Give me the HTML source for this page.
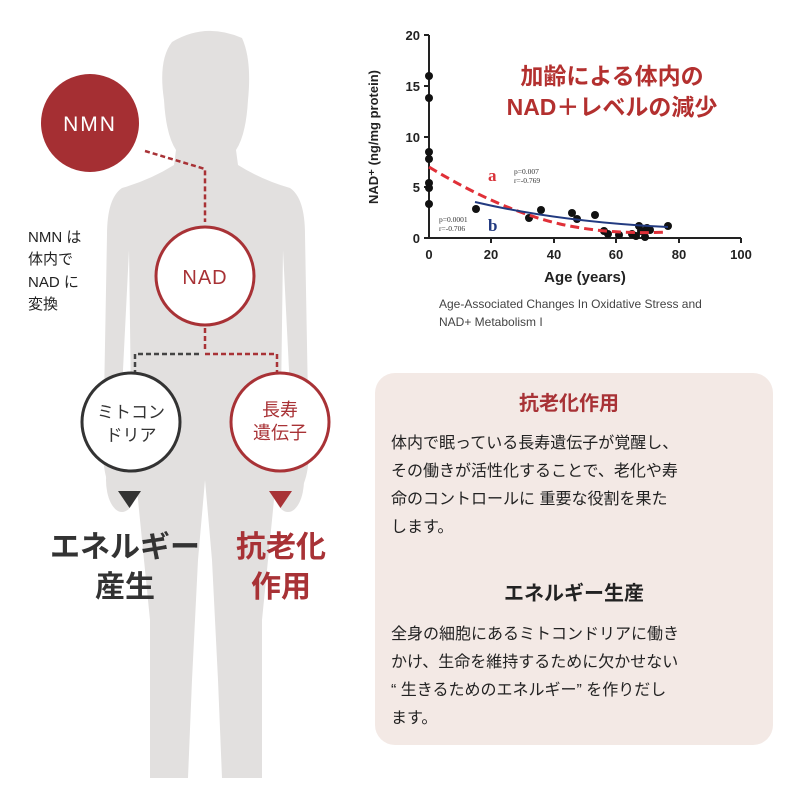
<!DOCTYPE html>
<html><head><meta charset="utf-8"><style>
body{margin:0;width:800px;height:801px;background:#fff;overflow:hidden;font-family:"Liberation Sans","Noto Sans CJK JP",sans-serif;}
</style></head><body>
<svg width="800" height="801" viewBox="0 0 800 801" xmlns="http://www.w3.org/2000/svg" font-family="Liberation Sans, Noto Sans CJK JP, sans-serif">
<!-- body silhouette -->
<g fill="#e2e0df">
<path d="M172,42 Q205,22 242,38 Q252,60 248,100 Q246,135 236,150 L238,165 Q262,180 290,188 Q305,198 305,235 L308,400 Q312,460 305,480 L300,495 Q290,440 290,390 L283,250 L281,400 Q280,440 272,520 L262,620 L262,700 L262,778 L222,778 L218,680 L212,560 L205,480 L198,560 L192,680 L188,778 L150,778 L150,700 L150,620 L140,520 Q132,440 131,400 L129,250 L122,390 Q122,440 112,495 L107,480 Q100,460 104,400 L107,235 Q107,198 122,188 Q150,180 174,165 L176,150 Q166,135 164,100 Q158,60 172,42 Z"/>
<ellipse cx="122" cy="480" rx="16" ry="32"/>
<ellipse cx="288" cy="480" rx="16" ry="32"/>
</g>
<!-- connectors -->
<g fill="none" stroke-width="2.5" stroke-dasharray="5,3">
<path d="M145,151 L205,169 L205,222" stroke="#a83236"/>
<path d="M205,328 L205,352" stroke="#a83236"/>
<path d="M135,375 L135,354 L201,354" stroke="#444"/>
<path d="M205,354 L277,354 L277,375" stroke="#a83236"/>
</g>
<!-- NMN -->
<circle cx="90" cy="123" r="49" fill="#a52f33"/>
<text x="90" y="131" text-anchor="middle" font-size="21" fill="#fff" letter-spacing="2">NMN</text>
<!-- NAD -->
<circle cx="205" cy="276" r="49" fill="#fff" stroke="#a83236" stroke-width="3"/>
<text x="205" y="284" text-anchor="middle" font-size="20" fill="#a83236" letter-spacing="1">NAD</text>
<text x="28" y="242" font-size="15" fill="#222">NMN は</text>
<text x="28" y="264" font-size="15" fill="#222">体内で</text>
<text x="28" y="287" font-size="15" fill="#222">NAD に</text>
<text x="28" y="309" font-size="15" fill="#222">変換</text>
<!-- circles -->
<circle cx="131" cy="422" r="49" fill="#fff" stroke="#333" stroke-width="3"/>
<text x="131" y="418" text-anchor="middle" font-size="17" fill="#333">ミトコン</text>
<text x="131" y="441" text-anchor="middle" font-size="17" fill="#333">ドリア</text>
<circle cx="280" cy="422" r="49" fill="#fff" stroke="#a83236" stroke-width="3"/>
<text x="280" y="416" text-anchor="middle" font-size="18" fill="#a83236">長寿</text>
<text x="280" y="439" text-anchor="middle" font-size="18" fill="#a83236">遺伝子</text>
<polygon points="118,491 141,491 129.5,508" fill="#333"/>
<polygon points="269,491 292,491 280.5,508" fill="#a83236"/>
<text x="125" y="557" text-anchor="middle" font-size="30" font-weight="bold" fill="#333">エネルギー</text>
<text x="125" y="597" text-anchor="middle" font-size="30" font-weight="bold" fill="#333">産生</text>
<text x="281" y="557" text-anchor="middle" font-size="30" font-weight="bold" fill="#a83236">抗老化</text>
<text x="281" y="597" text-anchor="middle" font-size="30" font-weight="bold" fill="#a83236">作用</text>
<!-- chart -->
<g stroke="#222" stroke-width="2" fill="none">
<path d="M429,35 L429,238 L741,238"/>
<path d="M424,35 L429,35 M424,86 L429,86 M424,137 L429,137 M424,187 L429,187 M424,238 L429,238"/>
<path d="M491,238 L491,243 M554,238 L554,243 M616,238 L616,243 M679,238 L679,243 M741,238 L741,243"/>
</g>
<g font-size="13" font-weight="bold" fill="#222" text-anchor="end">
<text x="420" y="40">20</text><text x="420" y="91">15</text><text x="420" y="142">10</text><text x="420" y="192">5</text><text x="420" y="243">0</text>
</g>
<g font-size="13" font-weight="bold" fill="#222" text-anchor="middle">
<text x="429" y="259">0</text><text x="491" y="259">20</text><text x="554" y="259">40</text><text x="616" y="259">60</text><text x="679" y="259">80</text><text x="741" y="259">100</text>
<text x="585" y="282" font-size="15">Age (years)</text>
</g>
<text transform="translate(378,137) rotate(-90)" text-anchor="middle" font-size="13" font-weight="bold" fill="#222">NAD⁺ (ng/mg protein)</text>
<g fill="#111">
<circle cx="429" cy="76" r="4"/><circle cx="429" cy="98" r="4"/><circle cx="429" cy="152" r="4"/><circle cx="429" cy="159" r="4"/><circle cx="429" cy="183" r="4"/><circle cx="429" cy="188" r="4"/><circle cx="429" cy="204" r="4"/>
<circle cx="476" cy="209" r="4"/><circle cx="529" cy="218" r="4"/><circle cx="541" cy="210" r="4"/><circle cx="572" cy="213" r="4"/><circle cx="577" cy="219" r="4"/><circle cx="595" cy="215" r="4"/><circle cx="604" cy="231" r="4"/><circle cx="608" cy="234" r="4"/><circle cx="619" cy="235" r="4"/><circle cx="632" cy="234" r="4"/><circle cx="636" cy="236" r="4"/><circle cx="639" cy="226" r="4"/><circle cx="641" cy="231" r="4"/><circle cx="645" cy="237" r="4"/><circle cx="650" cy="230" r="4"/><circle cx="647" cy="228" r="4"/><circle cx="668" cy="226" r="4"/>
</g>
<path d="M429,167 Q500,210 560,224 Q610,235 668,232" fill="none" stroke="#e03038" stroke-width="3" stroke-dasharray="9,5"/>
<path d="M475,202 Q560,222 668,227" fill="none" stroke="#223a80" stroke-width="2"/>
<text x="488" y="181" font-size="17" font-weight="bold" fill="#d9343a" font-family="Liberation Serif, serif">a</text>
<text x="488" y="231" font-size="17" font-weight="bold" fill="#223a80" font-family="Liberation Serif, serif">b</text>
<g font-size="7.5" fill="#333" font-family="Liberation Serif, serif">
<text x="514" y="174">p=0.007</text><text x="514" y="183">r=-0.769</text>
<text x="439" y="222">p=0.0001</text><text x="439" y="231">r=-0.706</text>
</g>
<text x="612" y="84" text-anchor="middle" font-size="23" font-weight="bold" fill="#b3302f">加齢による体内の</text>
<text x="612" y="115" text-anchor="middle" font-size="23" font-weight="bold" fill="#b3302f">NAD＋レベルの減少</text>
<text x="439" y="308" font-size="12" fill="#444">Age-Associated Changes In Oxidative Stress and</text>
<text x="439" y="326" font-size="12" fill="#444">NAD+ Metabolism I</text>
<!-- panel -->
<rect x="375" y="373" width="398" height="372" rx="20" fill="#f3e9e5"/>
<text x="569" y="410" text-anchor="middle" font-size="20" font-weight="bold" fill="#a83236">抗老化作用</text>
<g font-size="16" fill="#222">
<text x="391" y="448">体内で眠っている長寿遺伝子が覚醒し、</text>
<text x="391" y="476">その働きが活性化することで、老化や寿</text>
<text x="391" y="504">命のコントロールに 重要な役割を果た</text>
<text x="391" y="532">します。</text>
</g>
<text x="574" y="600" text-anchor="middle" font-size="20" font-weight="bold" fill="#222">エネルギー生産</text>
<g font-size="16" fill="#222">
<text x="391" y="639">全身の細胞にあるミトコンドリアに働き</text>
<text x="391" y="667">かけ、生命を維持するために欠かせない</text>
<text x="391" y="695">“ 生きるためのエネルギー” を作りだし</text>
<text x="391" y="723">ます。</text>
</g>
</svg>
</body></html>
